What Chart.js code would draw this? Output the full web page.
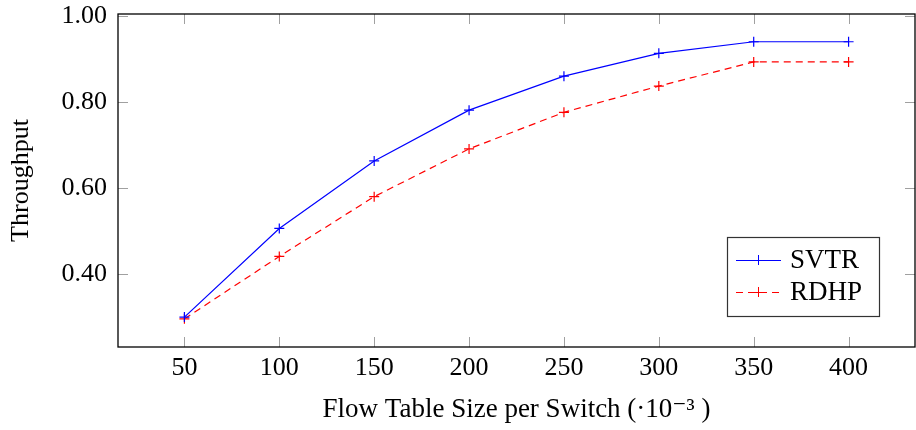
<!DOCTYPE html>
<html>
<head>
<meta charset="utf-8">
<script src="https://cdn.jsdelivr.net/npm/chart.js@4.4.0/dist/chart.umd.min.js"></script>
<style>
    html, body { margin: 0; padding: 0; background: #fff; }
</style>
</head>
<body>
<canvas id="myChart" width="916" height="430"></canvas>
<script>
// data
const tableSizes = [50, 100, 150, 200, 250, 300, 350, 400];
const svtrValues = [0.300, 0.506, 0.663, 0.781, 0.860, 0.913, 0.940, 0.940];
const rdhpValues = [0.296, 0.441, 0.580, 0.691, 0.776, 0.837, 0.893, 0.893];
const xTickValues = [50, 100, 150, 200, 250, 300, 350, 400];
const yTickValues = [0.4, 0.6, 0.8, 1.0];
const seriesNames = ['SVTR', 'RDHP'];

const FONT = '"Liberation Serif", "DejaVu Serif", serif';

// frame around the plot + pgfplots style inward ticks on all four sides
const framePlugin = {
    id: 'frame',
    afterDatasetsDraw(chart) {
        const { ctx, chartArea: a, scales } = chart;
        ctx.save();
        ctx.strokeStyle = '#a0a0a0';
        ctx.lineWidth = 1;
        ctx.beginPath();
        scales.x.ticks.forEach(t => {
            const px = Math.round(scales.x.getPixelForValue(t.value)) + 0.5;
            ctx.moveTo(px, a.bottom); ctx.lineTo(px, a.bottom - 10);
            ctx.moveTo(px, a.top); ctx.lineTo(px, a.top + 10);
        });
        scales.y.ticks.forEach(t => {
            const py = Math.round(scales.y.getPixelForValue(t.value)) + 0.5;
            ctx.moveTo(a.left, py); ctx.lineTo(a.left + 10, py);
            ctx.moveTo(a.right, py); ctx.lineTo(a.right - 10, py);
        });
        ctx.stroke();
        ctx.strokeStyle = '#000';
        ctx.lineWidth = 1.3;
        ctx.strokeRect(a.left, a.top, a.right - a.left, a.bottom - a.top);
        ctx.restore();
    }
};

// legend box inside the plot, bottom right
const boxLegendPlugin = {
    id: 'boxLegend',
    afterDraw(chart) {
        const { ctx, chartArea: a } = chart;
        const x0 = a.right - 188, y0 = a.bottom - 110;
        const w = 152, h = 79;
        ctx.save();
        ctx.fillStyle = '#fff';
        ctx.fillRect(x0, y0, w, h);
        ctx.strokeStyle = '#333';
        ctx.lineWidth = 1.2;
        ctx.strokeRect(x0 + 0.5, y0 + 0.5, w, h);
        ctx.font = '27px ' + FONT;
        ctx.textBaseline = 'middle';
        chart.data.datasets.forEach((ds, i) => {
            const cy = y0 + 23 + i * 32;
            ctx.strokeStyle = ds.borderColor;
            ctx.lineWidth = 1;
            ctx.setLineDash(ds.borderDash || []);
            ctx.beginPath();
            ctx.moveTo(x0 + 9, cy + 0.5);
            ctx.lineTo(x0 + 54, cy + 0.5);
            ctx.stroke();
            ctx.setLineDash([]);
            ctx.beginPath();
            ctx.moveTo(x0 + 31.5, cy - 5); ctx.lineTo(x0 + 31.5, cy + 5);
            ctx.moveTo(x0 + 26.5, cy + 0.5); ctx.lineTo(x0 + 36.5, cy + 0.5);
            ctx.stroke();
            ctx.fillStyle = '#000';
            ctx.fillText(ds.label, x0 + 63, cy + 1);
        });
        ctx.restore();
    }
};

const ctx = document.getElementById('myChart').getContext('2d');
new Chart(ctx, {
    type: 'line',
    data: {
        datasets: [
            {
                label: seriesNames[0],
                data: tableSizes.map((x, i) => ({ x: x, y: svtrValues[i] })),
                borderColor: '#0000ff',
                backgroundColor: '#0000ff',
                borderWidth: 1.2,
                pointStyle: 'cross',
                pointRadius: 5,
                pointBorderWidth: 1.2,
                tension: 0,
                fill: false
            },
            {
                label: seriesNames[1],
                data: tableSizes.map((x, i) => ({ x: x, y: rdhpValues[i] })),
                borderColor: '#ff0000',
                backgroundColor: '#ff0000',
                borderWidth: 1.2,
                borderDash: [7, 5],
                pointStyle: 'cross',
                pointRadius: 5,
                pointBorderWidth: 1.2,
                tension: 0,
                fill: false
            }
        ]
    },
    options: {
        responsive: false,
        animation: false,
        layout: { autoPadding: false, padding: { top: 14, right: 1, left: 0, bottom: 0 } },
        plugins: {
            legend: { display: false },
            tooltip: { enabled: false }
        },
        scales: {
            x: {
                type: 'linear',
                min: 15,
                max: 435,
                afterBuildTicks: s => { s.ticks = xTickValues.map(v => ({ value: v })); },
                afterFit: s => { s.height = 83; s.paddingLeft = 0; s.paddingRight = 0; },
                grid: { display: false, drawTicks: false, tickLength: 0 },
                border: { display: false },
                ticks: {
                    color: '#000',
                    padding: 6,
                    maxRotation: 0,
                    font: { family: FONT, size: 26 }
                },
                title: {
                    display: true,
                    text: 'Flow Table Size per Switch (·10⁻³ )',
                    color: '#000',
                    font: { family: FONT, size: 27 },
                    padding: { top: 0, bottom: 4 }
                }
            },
            y: {
                type: 'linear',
                min: 0.2305,
                max: 1.0045,
                afterBuildTicks: s => { s.ticks = yTickValues.map(v => ({ value: v })); },
                afterFit: s => { s.width = 118; s.paddingTop = 0; s.paddingBottom = 0; },
                grid: { display: false, drawTicks: false, tickLength: 0 },
                border: { display: false },
                ticks: {
                    color: '#000',
                    padding: 11,
                    font: { family: FONT, size: 26 },
                    callback: v => v.toFixed(2)
                },
                title: {
                    display: true,
                    text: 'Throughput',
                    color: '#000',
                    font: { family: FONT, size: 26 },
                    padding: { top: 6, bottom: 0 }
                }
            }
        }
    },
    plugins: [framePlugin, boxLegendPlugin]
});
</script>
</body>
</html>
